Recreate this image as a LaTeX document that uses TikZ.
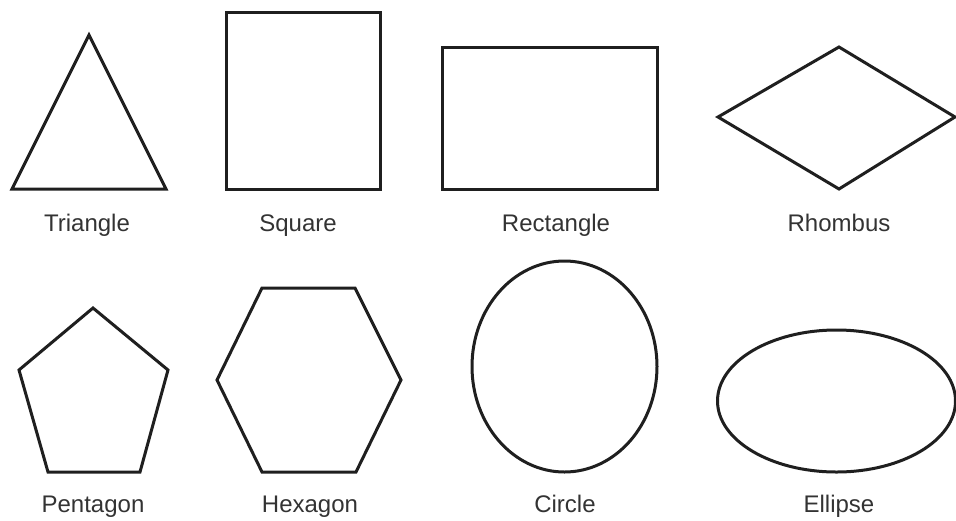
\documentclass[tikz,border=0pt]{standalone}
\usepackage{fontspec}
\setmainfont{Liberation Sans}
\usetikzlibrary{positioning}
\tikzset{
  outline/.style={draw=black!88,line width=3pt,line join=miter},
  caption/.style={font=\fontsize{24}{28}\selectfont,text=black!80,anchor=base,inner sep=0pt},
}

\begin{document}
\begin{tikzpicture}[x=1pt,y=-1pt]
  \useasboundingbox (0,0) rectangle (956,520);
  % first row
  \draw[outline] (89,35) -- (166,189) -- (12,189) -- cycle;
  \draw[outline] (226,12) rectangle (380,189);
  \draw[outline] (442,47) rectangle (657,189);
  \draw[outline] (718,117) -- (839,47) -- (955,117) -- (839,189) -- cycle;
  % second row
  \draw[outline] (93,308) -- (168,370) -- (140,472) -- (48,472) -- (19,370) -- cycle;
  \draw[outline] (262,288) -- (355,288) -- (401,380) -- (356,472) -- (262,472) -- (217,380) -- cycle;
  \draw[outline] (564.5,366.5) ellipse [x radius=92.5, y radius=105.5];
  \draw[outline] (836.5,401) ellipse [x radius=119, y radius=71];
  % labels
  \foreach \name/\x/\y in {Triangle/87/231,Square/298/231,Rectangle/556/231,Rhombus/839/231,
                           Pentagon/93/512,Hexagon/310/512,Circle/565/512,Ellipse/839/512}
    \node[caption] (lbl-\name) at (\x,\y) {\name};
\end{tikzpicture}
\end{document}
